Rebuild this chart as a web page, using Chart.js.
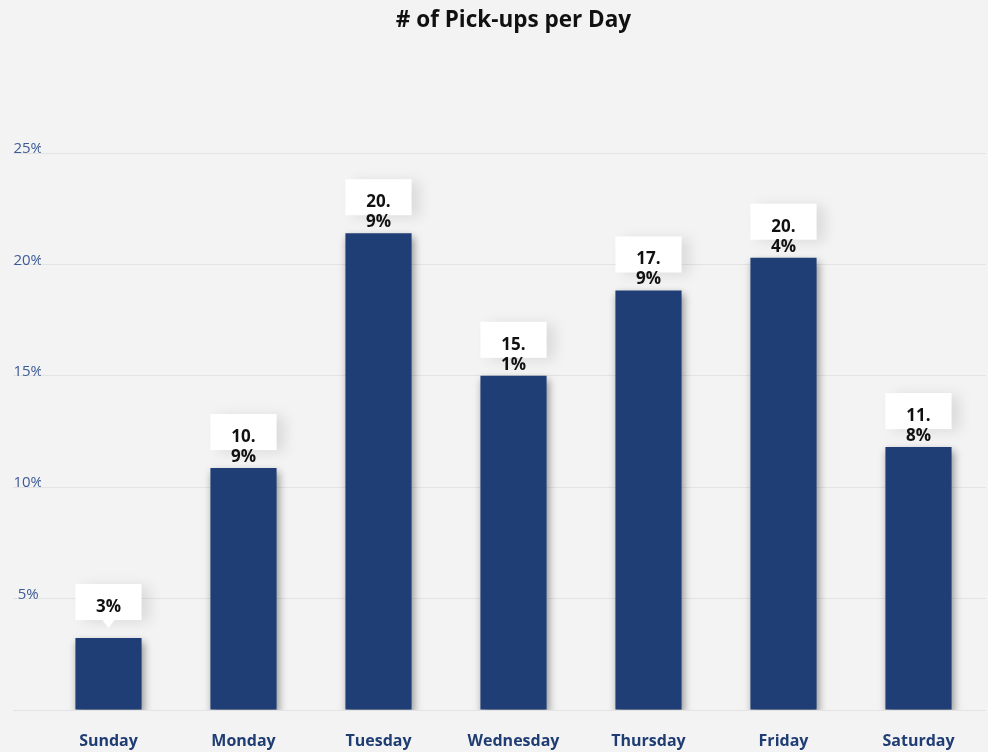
<!DOCTYPE html>
<html>
<head>
<meta charset="utf-8">
<script src="https://cdn.jsdelivr.net/npm/chart.js@4.4.1/dist/chart.umd.min.js"></script>
<style>
  html, body { margin: 0; padding: 0; background: #f3f3f3; }
  #wrap { width: 988px; height: 752px; }
</style>
</head>
<body>
<div id="wrap"><canvas id="pickupChart"></canvas></div>
<script>
// chart data
const days = ['Sunday', 'Monday', 'Tuesday', 'Wednesday', 'Thursday', 'Friday', 'Saturday'];
const pickupShare = [3.23, 10.86, 21.4, 15.0, 18.83, 20.3, 11.8];
const shareLabels = ['3%', '10.9%', '20.9%', '15.1%', '17.9%', '20.4%', '11.8%'];
const yTicks = [0, 5, 10, 15, 20, 25];

const barColor = '#1f3e76';
const gridColor = '#e3e3e3';

// drop shadow under the bars
const barShadow = {
  id: 'barShadow',
  beforeDatasetDraw(chart) {
    const c = chart.ctx;
    c.save();
    c.shadowColor = 'rgba(0,0,0,0.4)';
    c.shadowBlur = 8;
    c.shadowOffsetX = 2;
    c.shadowOffsetY = 4;
  },
  afterDatasetDraw(chart) {
    chart.ctx.restore();
  }
};

// white callout boxes above each bar
const calloutLabels = {
  id: 'calloutLabels',
  afterDatasetsDraw(chart) {
    const c = chart.ctx;
    const bars = chart.getDatasetMeta(0).data;
    bars.forEach((bar, i) => {
      const text = shareLabels[i];
      const w = bar.width;
      const left = bar.x - w / 2;
      const top = bar.y - 54;
      const h = 36;

      c.save();
      c.shadowColor = 'rgba(0,0,0,0.10)';
      c.shadowBlur = 14;
      c.shadowOffsetX = 8;
      c.shadowOffsetY = 2;
      c.fillStyle = '#ffffff';
      c.fillRect(left, top, w, h);
      c.restore();

      c.save();
      c.fillStyle = '#111111';
      c.font = 'bold 17px "Open Sans", sans-serif';
      c.textAlign = 'center';
      c.textBaseline = 'middle';
      const dot = text.indexOf('.');
      if (dot < 0) {
        // small pointer under single-line boxes
        c.fillStyle = '#ffffff';
        c.beginPath();
        c.moveTo(bar.x - 6, top + h);
        c.lineTo(bar.x + 6, top + h);
        c.lineTo(bar.x, top + h + 8);
        c.closePath();
        c.fill();
        c.fillStyle = '#111111';
        c.fillText(text, bar.x, top + 23);
      } else {
        // text wraps after the decimal point
        c.fillText(text.slice(0, dot + 1), bar.x, top + 23);
        c.fillText(text.slice(dot + 1), bar.x, top + 43);
      }
      c.restore();
    });
  }
};

const ctx = document.getElementById('pickupChart').getContext('2d');
const pickupChart = new Chart(ctx, {
  type: 'bar',
  data: {
    labels: days,
    datasets: [{
      data: pickupShare,
      backgroundColor: barColor,
      borderWidth: 0,
      barPercentage: 0.49,
      categoryPercentage: 1.0
    }]
  },
  options: {
    responsive: true,
    maintainAspectRatio: false,
    animation: false,
    layout: { padding: { left: 6, right: 2, top: 0, bottom: 0 } },
    plugins: {
      legend: { display: false },
      tooltip: { enabled: false },
      title: {
        display: true,
        fullSize: false,
        text: '# of Pick-ups per Day',
        color: '#111111',
        font: { family: '"Open Sans", sans-serif', size: 22.5, weight: 'bold' },
        padding: { top: 7, bottom: 119 }
      }
    },
    scales: {
      x: {
        afterFit(scale) {
          scale.height = 42;
        },
        grid: { display: false, drawTicks: false },
        border: { display: false },
        ticks: {
          color: '#1f3d73',
          padding: 22,
          font: { family: '"Open Sans", sans-serif', size: 16, weight: 'bold' }
        }
      },
      y: {
        min: 0,
        max: 25,
        afterBuildTicks(scale) {
          scale.ticks = yTicks.map(v => ({ value: v }));
        },
        afterFit(scale) {
          scale.width = 35;
        },
        grid: { color: gridColor, lineWidth: 1, drawTicks: true, tickLength: 28, tickColor: gridColor },
        border: { display: false },
        ticks: {
          crossAlign: 'center',
          padding: -30,
          labelOffset: -4,
          color: '#3d5b96',
          font: { family: '"Open Sans", sans-serif', size: 15 },
          callback: v => (v === 0 ? '' : v + '%')
        }
      }
    }
  },
  plugins: [barShadow, calloutLabels]
});
</script>
</body>
</html>
